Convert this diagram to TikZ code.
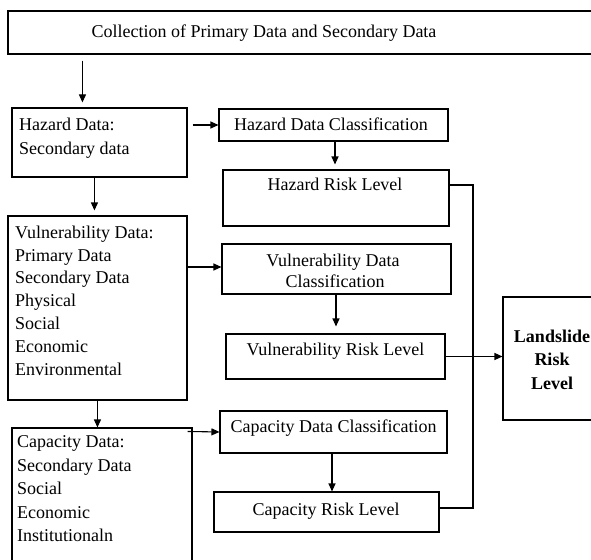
\documentclass[tikz,border=0pt]{standalone}
\usepackage{fontspec}
\setmainfont{Liberation Serif}
\usetikzlibrary{arrows.meta}
\begin{document}
\begin{tikzpicture}[x=1pt,y=-1pt,
  box/.style={draw, line width=1.1pt, inner sep=0pt},
  lbl/.style={inner sep=0pt, font=\fontsize{18}{23}\selectfont},
  list/.style={inner sep=0pt, align=left, anchor=north west},
  boldlbl/.style={inner sep=0pt, align=center, anchor=north, font=\fontsize{18}{23.5}\selectfont\bfseries},
  arr/.style={line width=1.1pt, -{Triangle[length=8pt,width=7pt]}},
  wire/.style={line width=1.1pt}]
\useasboundingbox (0,0) rectangle (591,559);
\clip (0,0) rectangle (591,559);

% frames
\node[box, minimum width=592pt, minimum height=43pt] (top) at (304,32.5) {};
\node[box, minimum width=175pt, minimum height=69pt] (hazData) at (99.5,142.5) {};
\node[box, minimum width=179pt, minimum height=184pt] (vulnData) at (97.5,308) {};
\node[box, minimum width=180pt, minimum height=172pt] (capData) at (102,514) {};
\node[box, minimum width=229pt, minimum height=32pt] (hdc) at (333.5,125) {};
\node[box, minimum width=226pt, minimum height=56pt] (hrl) at (336,198) {};
\node[box, minimum width=229pt, minimum height=50pt] (vdc) at (336.5,269) {};
\node[box, minimum width=219pt, minimum height=45pt] (vrl) at (335.5,356.5) {};
\node[box, minimum width=227pt, minimum height=42pt] (cdc) at (333.5,432) {};
\node[box, minimum width=225pt, minimum height=40pt] (crl) at (326.5,512) {};
\node[box, minimum width=117pt, minimum height=123pt] (land) at (561.5,358.5) {};

% labels
\node[lbl, anchor=base] (topT) at (264,38) {Collection of Primary Data and Secondary Data};
\node[lbl, anchor=base] (hdcT) at (331,131) {Hazard Data Classification};
\node[lbl, anchor=base] (hrlT) at (335,190) {Hazard Risk Level};
\node[lbl, anchor=base] (vdcT1) at (333,266) {Vulnerability Data};
\node[lbl, anchor=base] (vdcT2) at (335,287.5) {Classification};
\node[lbl, anchor=base] (vrlT) at (335.5,355) {Vulnerability Risk Level};
\node[lbl, anchor=base] (cdcT) at (333.5,432.5) {Capacity Data Classification};
\node[lbl, anchor=base] (crlT) at (326,515) {Capacity Risk Level};

\node[list, font=\fontsize{18}{24}\selectfont] (hazT) at (19,117.7)
  {Hazard Data:\\Secondary data};
\node[list, font=\fontsize{18}{22.8}\selectfont] (vulnT) at (15,225.7)
  {Vulnerability Data:\\Primary Data\\Secondary Data\\Physical\\Social\\Economic\\Environmental};
\node[list, font=\fontsize{18}{23.5}\selectfont] (capT) at (17,435.7)
  {Capacity Data:\\Secondary Data\\Social\\Economic\\Institutionaln};
\node[boldlbl] (landT) at (552,329.7) {Landslide\\Risk\\Level};

% flow arrows
\draw[arr] ([xshift=75pt,yshift=-6pt]top.south west) -- ([xshift=71pt,yshift=5pt]hazData.north west);
\draw[arr] ([xshift=83pt]hazData.south west) -- ([xshift=87pt,yshift=5pt]vulnData.north west);
\draw[arr] ([xshift=90pt]vulnData.south west) -- ([xshift=86pt]capData.north west);
\draw[arr] ([xshift=5pt]hdc.west -| hazData.east) -- (hdc.west);
\draw[arr] ([xshift=1.5pt]hdc.south) -- ([xshift=-1pt,yshift=5pt]hrl.north);
\draw[arr] ([yshift=41pt]vulnData.east) -- ([yshift=2pt]vdc.west);
\draw[arr] ([xshift=-0.5pt]vdc.south) -- ([xshift=0.5pt,yshift=7pt]vrl.north);
\draw[arr] (vrl.east) -- (vrl.east -| land.west);
\draw[arr] ([xshift=-5pt,yshift=-4pt]capData.north east) -- (cdc.west);
\draw[arr] ([xshift=-1.5pt]cdc.south) -- ([xshift=5.5pt]crl.north);

% collector line from the hazard and capacity risk levels
\coordinate (bus) at (473,0);
\coordinate (crlOut) at ([yshift=4pt]crl.east);
\draw[wire] ([yshift=13pt]hrl.east) -| (bus |- crlOut) -- (crlOut);
\end{tikzpicture}
\end{document}
